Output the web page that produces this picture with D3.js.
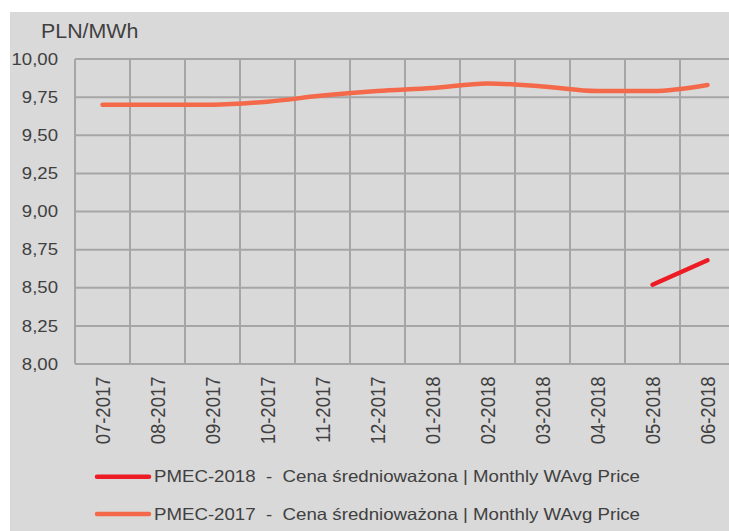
<!DOCTYPE html>
<html>
<head>
<meta charset="utf-8">
<script src="https://cdn.jsdelivr.net/npm/d3@7"></script>
<style>
  body { margin: 0; background: #fff; }
  svg { display: block; font-family: "Liberation Sans", Arial, sans-serif; }
</style>
</head>
<body>
<svg id="chart" width="729" height="531"></svg>
<script>
// months on the x axis
const months = ["07-2017", "08-2017", "09-2017", "10-2017", "11-2017", "12-2017",
  "01-2018", "02-2018", "03-2018", "04-2018", "05-2018", "06-2018"];

// PLN/MWh
const pmec2017 = [9.70, 9.70, 9.70, 9.72, 9.76, 9.79, 9.81, 9.84, 9.82, 9.79, 9.79, 9.83];
const pmec2018 = [null, null, null, null, null, null, null, null, null, null, 8.52, 8.68];

const yTicks = [8.0, 8.25, 8.5, 8.75, 9.0, 9.25, 9.5, 9.75, 10.0];

const seriesNames = [
  "PMEC-2018  -  Cena średnioważona | Monthly WAvg Price",
  "PMEC-2017  -  Cena średnioważona | Monthly WAvg Price",
];

const col = { bg: "#d9d9d9", grid: "#a6a6a6", text: "#404040", red: "#ed1c24", coral: "#f4694a" };

const svg = d3.select("#chart");

// grey panel
svg.append("rect")
  .attr("x", 10).attr("y", 12)
  .attr("width", 719).attr("height", 519)
  .attr("fill", col.bg);

const plot = { left: 75, top: 59, right: 735, bottom: 364 };

const x = d3.scaleBand().domain(months).range([plot.left, plot.right]);
const y = d3.scaleLinear().domain([8, 10]).range([plot.bottom, plot.top]);

const fmt = (v) => v.toFixed(2).replace(".", ",");

// the source renders its text a bit wide, so stretch horizontally
function wideText(px, py, sx, size, txt, anchor) {
  return svg.append("text")
    .attr("transform", `translate(${px},${py}) scale(${sx},1)`)
    .attr("text-anchor", anchor || "start")
    .attr("dy", "0.35em")
    .attr("xml:space", "preserve")
    .style("font-size", size + "px")
    .style("fill", col.text)
    .text(txt);
}

// grid
const g = svg.append("g");
yTicks.forEach((t) => {
  g.append("line")
    .attr("x1", plot.left).attr("x2", plot.right)
    .attr("y1", y(t)).attr("y2", y(t))
    .attr("stroke", col.grid).attr("stroke-width", 2);
});
months.concat(["end"]).forEach((m, i) => {
  const xv = plot.left + i * x.step();
  g.append("line")
    .attr("x1", xv).attr("x2", xv)
    .attr("y1", plot.top).attr("y2", plot.bottom)
    .attr("stroke", col.grid).attr("stroke-width", 2);
});

// y tick labels
yTicks.forEach((t) => {
  wideText(58, y(t), 1.14, 16.3, fmt(t), "end");
});

// unit label
svg.append("text")
  .attr("transform", "translate(41,37.7) scale(1.07,1)")
  .style("font-size", "20px")
  .style("fill", col.text)
  .text("PLN/MWh");

// x labels, rotated
months.forEach((m) => {
  const cx = x(m) + x.bandwidth() / 2;
  svg.append("text")
    .attr("transform", `translate(${cx + 7.3},376.5) scale(1.06,1) rotate(-90)`)
    .attr("text-anchor", "end")
    .style("font-size", "18.5px")
    .style("fill", col.text)
    .text(m);
});

// lines
const line = d3.line()
  .defined((d) => d != null)
  .x((d, i) => x(months[i]) + x.bandwidth() / 2)
  .y((d) => y(d))
  .curve(d3.curveMonotoneX);

svg.append("path")
  .datum(pmec2017)
  .attr("d", line)
  .attr("fill", "none")
  .attr("stroke", col.coral)
  .attr("stroke-width", 4.5)
  .attr("stroke-linecap", "round");

svg.append("path")
  .datum(pmec2018)
  .attr("d", line)
  .attr("fill", "none")
  .attr("stroke", col.red)
  .attr("stroke-width", 4.5)
  .attr("stroke-linecap", "round");

// legend
const legendColors = [col.red, col.coral];
seriesNames.forEach((name, i) => {
  const ly = 476.7 + i * 37.3;
  svg.append("line")
    .attr("x1", 97).attr("x2", 149)
    .attr("y1", ly).attr("y2", ly)
    .attr("stroke", legendColors[i])
    .attr("stroke-width", 4.5)
    .attr("stroke-linecap", "round");
  wideText(154, ly, 1.145, 16.3, name);
});
</script>
</body>
</html>
